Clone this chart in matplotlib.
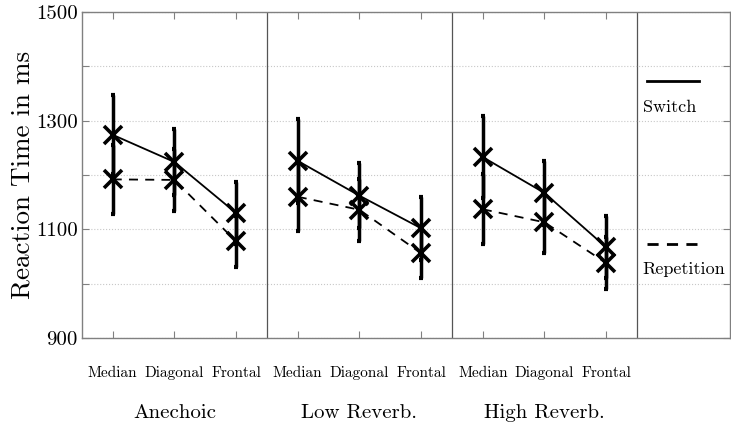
import numpy as np
import matplotlib
matplotlib.use('Agg')
import matplotlib.pyplot as plt

plt.rcParams['font.family'] = ['cmr10', 'DejaVu Serif']
plt.rcParams['mathtext.fontset'] = 'cm'
plt.rcParams['axes.formatter.use_mathtext'] = True

rooms = ['Anechoic', 'Low Reverb.', 'High Reverb.']
directions = ['Median', 'Diagonal', 'Frontal']

# mean reaction times (ms) per room, order Median / Diagonal / Frontal
switch_mean = [[1274, 1224, 1130], [1226, 1162, 1102], [1233, 1167, 1067]]
switch_err = [[73, 61, 57], [77, 60, 58], [76, 59, 57]]
rep_mean = [[1192, 1191, 1078], [1160, 1136, 1056], [1137, 1113, 1038]]
rep_err = [[63, 57, 47], [63, 57, 46], [64, 57, 48]]

fig = plt.figure(figsize=(7.31, 4.29), dpi=100)
ax = fig.add_axes([0.112, 0.212, 0.886, 0.76])

grey = '#808080'
for g in range(3):
    xs = np.arange(3) + 1 + 3 * g
    ax.plot(xs, switch_mean[g], color='k', lw=1.3, ls='-', zorder=3)
    ax.plot(xs, rep_mean[g], color='k', lw=1.3, ls=(0, (5, 4)), zorder=3)
    ax.errorbar(xs, switch_mean[g], yerr=switch_err[g], fmt='none', ecolor='k',
                elinewidth=2.5, capsize=1.5, capthick=3, zorder=4)
    ax.errorbar(xs, rep_mean[g], yerr=rep_err[g], fmt='none', ecolor='k',
                elinewidth=2.5, capsize=1.5, capthick=3, zorder=4)
    ax.plot(xs, switch_mean[g], ls='none', marker='x', ms=13, mew=2.6, color='k', zorder=5)
    ax.plot(xs, rep_mean[g], ls='none', marker='x', ms=13, mew=2.6, color='k', zorder=5)
    # group label
    ax.text(2 + 3 * g, -0.23, rooms[g], transform=ax.get_xaxis_transform(),
            ha='center', va='center', fontsize=15)

for xv in [3.5, 6.5, 9.5]:
    ax.axvline(xv, color='#555555', lw=0.9, zorder=1)

# legend drawn by hand in the empty last panel
ax.plot([0.873, 0.953], [0.787, 0.787], transform=ax.transAxes, color='k', lw=2, ls='-', clip_on=False)
ax.text(0.866, 0.707, 'Switch', transform=ax.transAxes, fontsize=13, va='center', ha='left')
ax.plot([0.873, 0.953], [0.288, 0.288], transform=ax.transAxes, color='k', lw=2, ls=(0, (4, 3)), clip_on=False)
ax.text(0.866, 0.21, 'Repetition', transform=ax.transAxes, fontsize=13, va='center', ha='left')

ax.set_xlim(0.5, 11.0)
ax.set_ylim(900, 1500)
ax.set_xticks(np.arange(1, 10))
ax.set_xticklabels(directions * 3, fontsize=11)
yt = np.arange(900, 1501, 100)
ax.set_yticks(yt)
ax.set_yticklabels([str(v) if v in (900, 1100, 1300, 1500) else '' for v in yt], fontsize=15)
ax.set_ylabel('Reaction Time in ms', fontsize=19.5, labelpad=1)

ax.grid(axis='y', ls=':', color='#c8c8c8', lw=0.8)
ax.tick_params(axis='x', direction='in', top=True, length=5, color=grey, pad=20)
ax.tick_params(axis='y', direction='in', right=True, length=5, color=grey, pad=3)
for s in ax.spines.values():
    s.set_color(grey)
    s.set_linewidth(1)

fig.savefig('out.png', dpi=100)
